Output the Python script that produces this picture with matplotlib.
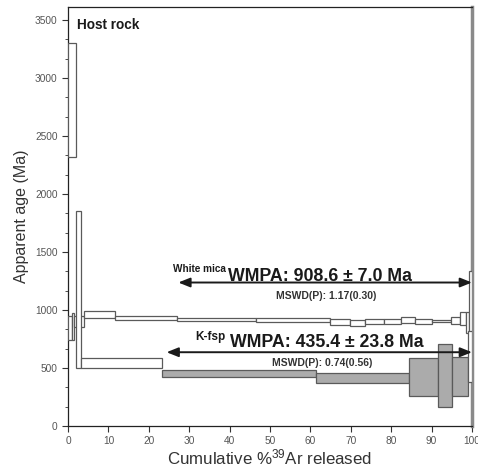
import matplotlib
matplotlib.use("Agg")
import matplotlib.pyplot as plt
from matplotlib.patches import Rectangle
from matplotlib.ticker import MultipleLocator

plt.rcParams['font.family'] = ['Liberation Sans', 'DejaVu Sans']
plt.rcParams['mathtext.fontset'] = 'custom'
plt.rcParams['mathtext.rm'] = 'Liberation Sans'
plt.rcParams['mathtext.it'] = 'Liberation Sans'

# White mica step-heating spectrum: cumulative % 39Ar edges, ages, 1-sigma errors
wm_x0 = [0.0, 0.9, 1.6, 3.9, 11.6, 26.9, 46.5, 64.9, 69.8, 73.6, 78.3, 82.4, 85.9, 90.1, 94.7, 97.0, 98.5, 99.3]
wm_x1 = [0.9, 1.6, 3.9, 11.6, 26.9, 46.5, 64.9, 69.8, 73.6, 78.3, 82.4, 85.9, 90.1, 94.7, 97.0, 98.5, 99.3, 100.0]
wm_age = [845, 860, 898, 963, 933, 919, 913, 896, 889, 899, 900, 912, 900, 904, 912, 928, 893, 1048]
wm_err = [105, 118, 46, 29, 16, 10, 14, 25, 25, 22, 20, 26, 22, 10, 30, 57, 93, 290]

# K-feldspar spectrum
kf_x0 = [0.0, 1.9, 3.1, 23.2, 61.4, 84.5, 91.5, 95.1, 99.1]
kf_x1 = [1.9, 3.1, 23.2, 61.4, 84.5, 91.5, 95.1, 99.1, 100.0]
kf_age = [2808, 1177, 541, 452, 411, 421, 434, 430, 600]
kf_err = [490, 680, 43, 31, 43, 163, 273, 168, 220]
kf_plateau = [False, False, False, True, True, True, True, True, False]

x_ticks = [0, 10, 20, 30, 40, 50, 60, 70, 80, 90, 100]
y_ticks = [0, 500, 1000, 1500, 2000, 2500, 3000, 3500]

wm_arrow = (27.3, 100.0, 1237)
kf_arrow = (24.4, 100.0, 636)

fig = plt.figure(figsize=(4.78, 4.69), dpi=100)
ax = fig.add_axes([0.1423, 0.0917, 0.8451, 0.8933])

edge = '#5a5a5a'
for x0, x1, a, e in zip(wm_x0, wm_x1, wm_age, wm_err):
    ax.add_patch(Rectangle((x0, a - e), x1 - x0, 2 * e, facecolor='white',
                           edgecolor=edge, linewidth=0.9, zorder=3))
for x0, x1, a, e, p in zip(kf_x0, kf_x1, kf_age, kf_err, kf_plateau):
    ax.add_patch(Rectangle((x0, a - e), x1 - x0, 2 * e,
                           facecolor='#ababab' if p else 'white',
                           edgecolor=edge, linewidth=0.9, zorder=3 if not p else 2))

for (xa, xb, y) in [wm_arrow, kf_arrow]:
    ax.annotate('', xy=(xb, y), xytext=(xa, y),
                arrowprops=dict(arrowstyle='<|-|>,head_length=0.7,head_width=0.28',
                                color='#1a1a1a', lw=1.4, shrinkA=0, shrinkB=0),
                zorder=5)

ax.text(26.0, 1331, 'White mica', fontsize=7.2, fontweight='bold', ha='left', va='baseline', color='#1a1a1a')
ax.text(39.5, 1251, 'WMPA: 908.6 ± 7.0 Ma', fontsize=12.8, fontweight='bold', ha='left', va='baseline', color='#1a1a1a')
ax.text(64.0, 1125, 'MSWD(P): 1.17(0.30)', fontsize=7.5, fontweight='bold', ha='center', va='center', color='#333333')
ax.text(31.4, 742, 'K-fsp', fontsize=8.5, fontweight='bold', ha='left', va='baseline', color='#1a1a1a')
ax.text(40.2, 679, 'WMPA: 435.4 ± 23.8 Ma', fontsize=12.8, fontweight='bold', ha='left', va='baseline', color='#1a1a1a')
ax.text(63.0, 541, 'MSWD(P): 0.74(0.56)', fontsize=7.5, fontweight='bold', ha='center', va='center', color='#333333')
ax.text(2.2, 3460, 'Host rock', fontsize=9.8, fontweight='bold', ha='left', va='center', color='#1a1a1a')

ax.set_xlim(0, 100)
ax.set_ylim(0, 3612)
ax.set_xticks(x_ticks)
ax.set_yticks(y_ticks)
ax.yaxis.set_minor_locator(MultipleLocator(500 / 3))
ax.tick_params(axis='both', which='major', direction='out', length=4, width=0.8,
               labelsize=7.3, colors='#333333', labelcolor='#555555')
ax.tick_params(axis='y', which='minor', direction='out', length=2, width=0.6, colors='#333333')

for s in ['left', 'bottom', 'top']:
    ax.spines[s].set_color('#222222')
    ax.spines[s].set_linewidth(0.9)
ax.spines['right'].set_color('#8a8a8a')
ax.spines['right'].set_linewidth(2.5)

ax.set_ylabel('Apparent age (Ma)', fontsize=11.5, color='#333333', labelpad=4)
ax.set_xlabel(r'Cumulative %$^{\mathrm{39}}$Ar released', fontsize=12.2, color='#333333', labelpad=1)

fig.savefig('out.png', dpi=100)
